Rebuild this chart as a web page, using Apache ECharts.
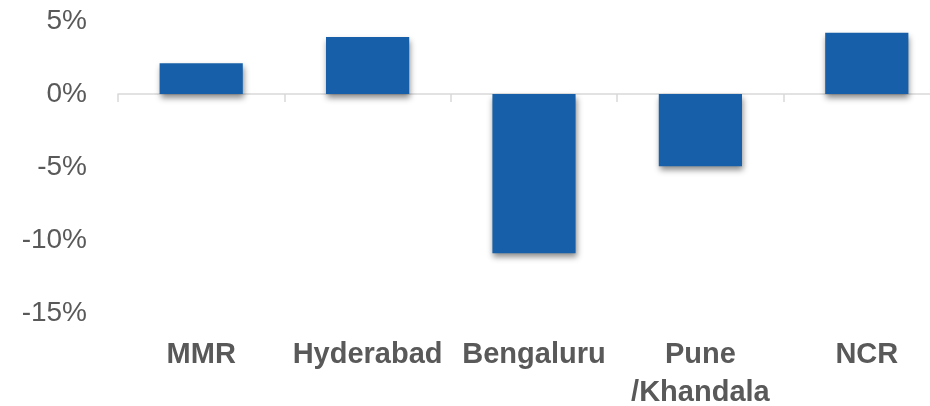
<!DOCTYPE html>
<html>
<head>
<meta charset="utf-8">
<script src="https://cdn.jsdelivr.net/npm/echarts@6/dist/echarts.min.js"></script>
<style>
  html, body { margin: 0; padding: 0; background: #fff; }
  #chart { width: 930px; height: 406px; }
</style>
</head>
<body>
<div id="chart"></div>
<script>
// 各城市变化（%）
var cities = ['MMR', 'Hyderabad', 'Bengaluru', 'Pune\n/Khandala', 'NCR'];
var changes = [2.1, 3.9, -10.9, -4.95, 4.2];
var yTicks = [-15, -10, -5, 0, 5];

var myChart = echarts.init(document.getElementById('chart'));

myChart.setOption({
    animation: false,
    grid: { left: 118, width: 832, top: 21, bottom: 93, outerBoundsMode: 'none', containLabel: false },
    xAxis: [
        {   // 零线 + 刻度
            type: 'category',
            data: cities,
            axisLine: { onZero: true, lineStyle: { color: '#D9D9D9', width: 1.5 } },
            axisTick: { show: true, length: 8, lineStyle: { color: '#D9D9D9', width: 1.5 } },
            axisLabel: { show: false }
        },
        {   // 底部标签
            type: 'category',
            data: cities,
            position: 'bottom',
            axisLine: { show: false },
            axisTick: { show: false },
            axisLabel: {
                margin: 23,
                color: '#595959',
                fontFamily: 'Liberation Sans, Arial, sans-serif',
                fontWeight: 'bold',
                fontSize: 29,
                lineHeight: 38,
                interval: 0
            }
        }
    ],
    yAxis: {
        type: 'value',
        min: yTicks[0],
        max: yTicks[yTicks.length - 1],
        interval: 5,
        axisLine: { show: false },
        axisTick: { show: false },
        splitLine: { show: false },
        axisLabel: {
            margin: 31,
            color: '#595959',
            fontFamily: 'Liberation Sans, Arial, sans-serif',
            fontSize: 28,
            formatter: function (v) { return v + '%'; }
        }
    },
    series: [{
        type: 'bar',
        xAxisIndex: 0,
        data: changes,
        barWidth: '50%',
        itemStyle: {
            color: '#1760A9',
            shadowColor: 'rgba(0,0,0,0.45)',
            shadowBlur: 6,
            shadowOffsetX: 1,
            shadowOffsetY: 4
        }
    }]
});
</script>
</body>
</html>
